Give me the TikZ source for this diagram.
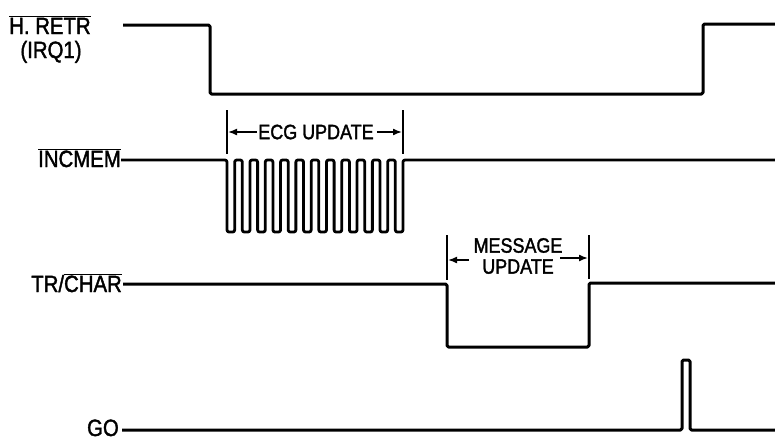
\documentclass[tikz,border=0pt]{standalone}
\usepackage{fontspec}
\setmainfont{Liberation Sans}
\newfontfamily\medfont{Liberation Sans}[FakeBold=1.8]
\usetikzlibrary{arrows.meta}
\newcommand\ovl[1]{$\overline{\hbox{#1}}$}
\newcommand\tall[1]{\scalebox{0.97}[1.12]{#1}}
\begin{document}
\begin{tikzpicture}[x=1pt,y=-1pt,
  wave/.style={line width=3pt, line join=round, rounded corners=1.5pt},
  meander/.style={line width=2.8pt, line join=round, rounded corners=2pt},
  sig/.style={font=\medfont\fontsize{21}{24}\selectfont, inner sep=0pt},
  ann/.style={font=\medfont\fontsize{18.5}{21}\selectfont, inner sep=0pt, align=center},
  marker/.style={line width=1.6pt},
  dimarrow/.style={line width=1.6pt, -{Latex[length=9pt,width=7pt]}}]
\useasboundingbox (0,0) rectangle (775,440);

% labels
\node[sig, anchor=base] (hretr) at (50,34) {\tall{\ovl{H. RETR}}};
\node[sig, anchor=base] (irq) at (51,58) {\tall{(IRQ1)}};
\node[sig, anchor=base east] (incmem) at (121,167) {\tall{\ovl{INCMEM}}};
\node[sig, anchor=base east] (trchar) at (122,292) {\tall{TR/\ovl{CHAR}}};
\node[sig, anchor=base east] (go) at (119,436) {\tall{GO}};

% H. RETR waveform
\coordinate (h0) at (123,25);
\draw[wave] (h0) -- (210,25) -- (210,94) -- (703,94) -- (703,24) -- (776,24);

% INCMEM waveform with burst
\coordinate (i0) at (121,160);
\draw[meander] (i0) -- (227,160)
  \foreach \k in {1,...,11} { -- ++(0,72) -- ++(7.65,0) -- ++(0,-72) -- ++(7.65,0) }
  -- ++(0,72) -- ++(7.65,0) -- ++(0,-72) -- (776,160);

% ECG UPDATE annotation
\coordinate (e1t) at (227,110); \coordinate (e1b) at (227,154);
\coordinate (e2t) at (403,110); \coordinate (e2b) at (403,154);
\draw[marker] (e1t) -- (e1b);
\draw[marker] (e2t) -- (e2b);
\node[ann] (ecg) at (316,132) {\tall{ECG UPDATE}};
\coordinate (ea1) at (228,132);
\coordinate (ea2) at (402,132);
\draw[dimarrow] ([xshift=-1pt]ecg.west) -- (ea1);
\draw[dimarrow] ([xshift=3pt]ecg.east) -- (ea2);

% TR/CHAR waveform
\coordinate (t0) at (123,284);
\draw[wave] (t0) -- (447,284) -- (447,347) -- (589,347) -- (589,283) -- (776,283);

% MESSAGE UPDATE annotation
\coordinate (m1t) at (447,235); \coordinate (m1b) at (447,280);
\coordinate (m2t) at (589,235); \coordinate (m2b) at (589,279);
\draw[marker] (m1t) -- (m1b);
\draw[marker] (m2t) -- (m2b);
\node[ann] (msg) at (518,256) {\tall{MESSAGE}\\\tall{UPDATE}};
\coordinate (ma1s) at (469,260); \coordinate (ma1) at (448,260);
\coordinate (ma2s) at (560,258); \coordinate (ma2) at (588,258);
\draw[dimarrow] (ma1s) -- (ma1);
\draw[dimarrow] (ma2s) -- (ma2);

% GO waveform
\coordinate (g0) at (122,430);
\draw[wave] (g0) -- (682,430) -- (682,360) -- (690,360) -- (690,430) -- (776,430);
\end{tikzpicture}
\end{document}
